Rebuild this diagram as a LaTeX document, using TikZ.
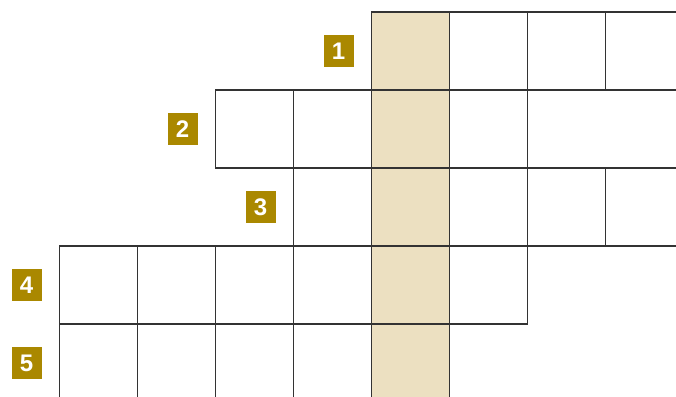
\documentclass[tikz,border=0pt]{standalone}
\usepackage{fontspec}
\setsansfont{Liberation Sans}
\definecolor{oro}{HTML}{AA8800}
\definecolor{sabbia}{HTML}{ECE0C1}
\definecolor{griglia}{HTML}{333333}
\begin{document}
\begin{tikzpicture}[
		x=58.5pt, y=-58.5pt,
		cella/.style={rectangle, draw=griglia, line width=0.9pt, fill=white,
			minimum size=58.5pt, inner sep=0pt, outer sep=0pt},
		chiave/.style={cella, fill=sabbia},
		numero/.style={rectangle, fill=oro, text=white, inner sep=0pt,
			minimum width=22.5pt, minimum height=24pt,
			font=\sffamily\bfseries\fontsize{18}{18}\selectfont},
		]
		\useasboundingbox (-0.763,-0.154) rectangle (7.904,4.936);
		\clip (-0.763,-0.154) rectangle (7.904,4.936);
		
		%% righe: riga / prima colonna / ultima colonna
		\foreach \r/\a/\b in {0/4/7, 1/2/5, 2/3/7, 3/0/5, 4/0/4}{
			\foreach \c in {\a,...,\b}
			\node[cella] (c\r-\c) at (\c+0.5,\r+0.5) {};
			%% numero della riga
			\node[numero] (n\r) at (\a-0.423,\r+0.5) {\pgfmathparse{int(\r+1)}\pgfmathresult};
		}
		%% colonna della parola chiave
		\foreach \r in {0,...,4}
		\node[chiave] (k\r) at (4.5,\r+0.5) {};
		
\end{tikzpicture}
\end{document}
